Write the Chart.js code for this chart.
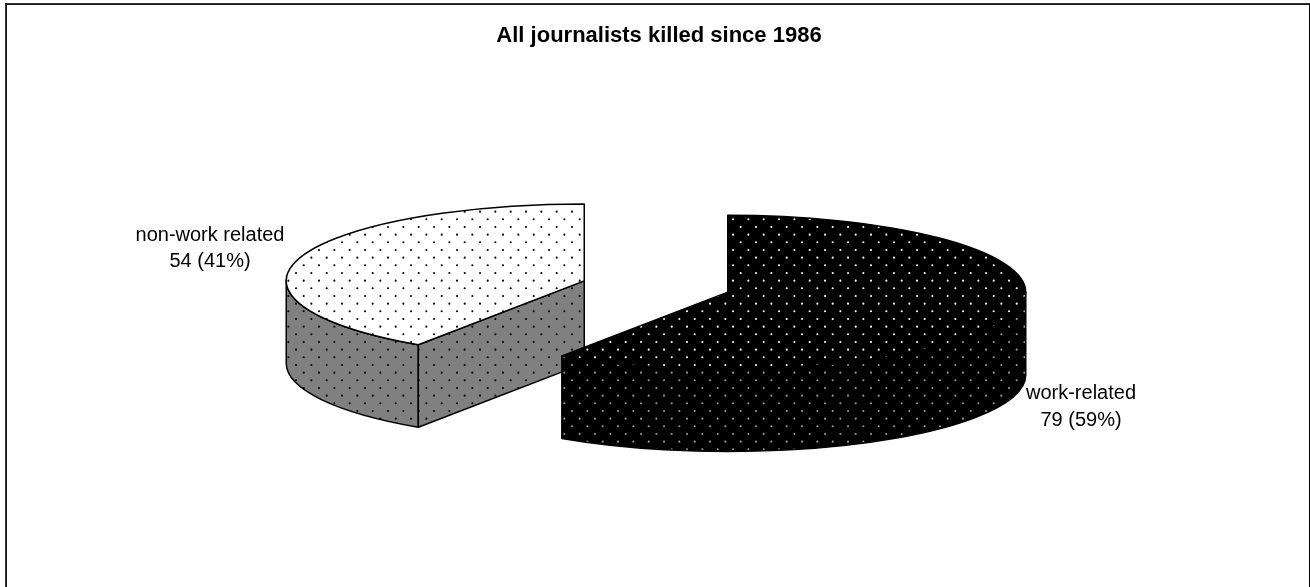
<!DOCTYPE html>
<html>
<head>
<meta charset="utf-8">
<script src="https://cdn.jsdelivr.net/npm/chart.js@4"></script>
<style>html,body{margin:0;padding:0;background:#fff;overflow:hidden}canvas{display:block}</style>
</head>
<body>
<canvas id="c" width="1310" height="587"></canvas>
<script>
const titleText = "All journalists killed since 1986";
const categories = ["non-work related", "work-related"];
const values = [54, 79];
const percents = [41, 59];

const STYLE = {
  center: [656, 286.5], tilt: 0.258, depth: 82.5, radius: 298, explode: 75,
  labelFont: '20px "Liberation Sans", Arial, sans-serif',
  labelPos: [[210, 235, 261], [1081, 393, 420]],
  line: 1.5
};
function tile(bg, dot) {
  const c = document.createElement('canvas'); c.width = c.height = 46;
  const g = c.getContext('2d');
  g.fillStyle = bg; g.fillRect(0, 0, 46, 46);
  g.fillStyle = dot;
  const st = 46 / 3;
  for (let i = -1; i < 4; i++) for (let j = -1; j < 4; j++) {
    [[4.7, 12.3], [12.37, 4.63]].forEach(p => {
      g.beginPath(); g.arc(p[0] + i * st, p[1] + j * st, 1.05, 0, 2 * Math.PI); g.fill();
    });
  }
  return c;
}
const ctx = document.getElementById('c').getContext('2d');
const topFill = [ctx.createPattern(tile('#ffffff', '#000000'), 'repeat'), ctx.createPattern(tile('#000000', '#ffffff'), 'repeat')];
const wallFill = [ctx.createPattern(tile('#808080', '#000000'), 'repeat'), ctx.createPattern(tile('#000000', '#9a9a9a'), 'repeat')];

function geom(arc) {
  const mid = (arc.startAngle + arc.endAngle) / 2;
  const k = STYLE.tilt, t = STYLE.explode;
  return { k, rx: arc.outerRadius, ry: arc.outerRadius * k,
    cx: STYLE.center[0] + Math.cos(mid) * t, cy: STYLE.center[1] + Math.sin(mid) * t * k };
}
const pie3d = {
  id: 'pie3d',
  beforeDraw(chart) {
    const g = chart.ctx;
    g.save();
    g.fillStyle = '#fff'; g.fillRect(0, 0, 1310, 587);
    g.fillStyle = '#000';
    g.fillRect(5.2, 3.2, 1304.8, 1.7);
    g.fillRect(5.2, 3.2, 1.7, 584);
    g.fillRect(1309, 3.2, 1, 584);
    g.restore();
  },
  beforeDatasetsDraw(chart) {
    const g = chart.ctx, arcs = chart.getDatasetMeta(0).data;
    arcs.forEach((arc, i) => {
      const m = geom(arc), d = STYLE.depth;
      let s = arc.startAngle, e = arc.endAngle;
      if (s > Math.PI) { s -= 2 * Math.PI; e -= 2 * Math.PI; }
      g.save();
      g.fillStyle = wallFill[i]; g.strokeStyle = '#000'; g.lineWidth = STYLE.line; g.lineJoin = 'round';
      const lo = Math.max(s, 0), hi = Math.min(e, Math.PI);
      if (hi > lo) {
        g.beginPath();
        g.ellipse(m.cx, m.cy, m.rx, m.ry, 0, lo, hi);
        g.ellipse(m.cx, m.cy + d, m.rx, m.ry, 0, hi, lo, true);
        g.closePath(); g.fill(); g.stroke();
      }
      [[s, Math.cos(s) < -1e-6], [e, Math.cos(e) > 1e-6]].forEach(([a, vis]) => {
        if (!vis) return;
        const px = m.cx + Math.cos(a) * m.rx, py = m.cy + Math.sin(a) * m.ry;
        g.beginPath();
        g.moveTo(m.cx, m.cy); g.lineTo(px, py); g.lineTo(px, py + d); g.lineTo(m.cx, m.cy + d);
        g.closePath(); g.fill(); g.stroke();
      });
      g.restore();
    });
  },
  beforeDatasetDraw(chart) {
    const g = chart.ctx, arcs = chart.getDatasetMeta(0).data;
    arcs.forEach((arc, i) => {
      const m = geom(arc);
      const ctm = new DOMMatrix().translate(m.cx, m.cy).scale(1, m.k).translate(-arc.x, -arc.y);
      // keep the dot grid aligned with the screen while the top is squashed
      topFill[i].setTransform(ctm.inverse());
      g.save();
      g.transform(ctm.a, ctm.b, ctm.c, ctm.d, ctm.e, ctm.f);
      arc.draw(g);
      g.restore();
    });
    return false;
  },
  afterDatasetsDraw(chart) {
    const g = chart.ctx, arcs = chart.getDatasetMeta(0).data;
    g.save();
    g.strokeStyle = '#000'; g.lineWidth = STYLE.line; g.lineJoin = 'round';
    arcs.forEach(arc => {
      const m = geom(arc);
      g.beginPath();
      g.moveTo(m.cx, m.cy);
      g.ellipse(m.cx, m.cy, m.rx, m.ry, 0, arc.startAngle, arc.endAngle);
      g.closePath(); g.stroke();
    });
    g.fillStyle = '#000'; g.font = STYLE.labelFont; g.textAlign = 'center'; g.textBaseline = 'middle';
    categories.forEach((name, i) => {
      const p = STYLE.labelPos[i];
      g.fillText(name, p[0], p[1]);
      g.fillText(values[i] + ' (' + percents[i] + '%)', p[0], p[2]);
    });
    g.restore();
  }
};

new Chart(ctx, {
  type: 'pie',
  data: {
    labels: categories,
    datasets: [{
      data: values,
      backgroundColor: topFill,
      borderWidth: 0,
      hoverOffset: 0,
      clip: false
    }]
  },
  options: {
    responsive: false,
    animation: false,
    events: [],
    radius: STYLE.radius,
    rotation: 360 * values[1] / (values[0] + values[1]),
    layout: { padding: { left: 8 } },
    plugins: {
      legend: { display: false },
      tooltip: { enabled: false },
      title: {
        display: true, text: titleText, color: '#000',
        font: { family: '"Liberation Sans", Arial, sans-serif', size: 22, weight: 'bold' },
        padding: { top: 23, bottom: 0 }
      }
    }
  },
  plugins: [pie3d]
});
</script>
</body>
</html>
